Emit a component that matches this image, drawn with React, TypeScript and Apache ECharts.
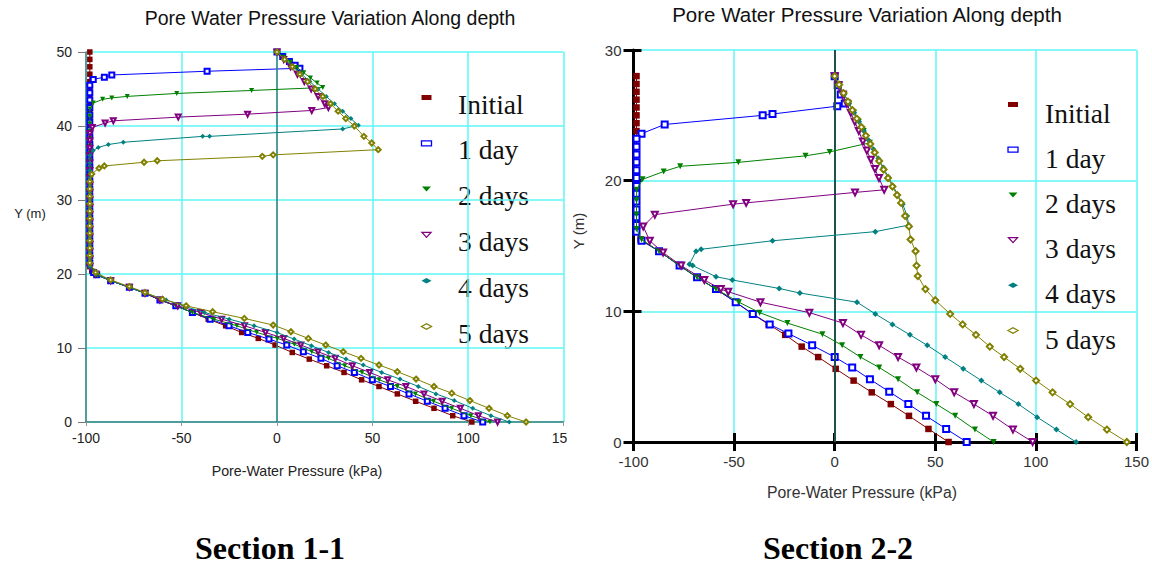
import React, { useEffect, useRef } from "react";
import * as echarts from "echarts";

// ---------- shared ----------
const SERIES_NAMES = ["Initial", "1 day", "2 days", "3 days", "4 days", "5 days"];
const CHART_TITLE = "Pore Water Pressure Variation Along depth";
const X_NAME = "Pore-Water Pressure (kPa)";
const Y_NAME = "Y (m)";
const SECTION_LABELS = ["Section 1-1", "Section 2-2"];
const X_MIN = -100;
const X_MAX = 150;
const X_STEP = 50;
const Y_STEP = 10;
const LEFT_Y_MAX = 50;
const RIGHT_Y_MAX = 30;

// ---------- Section 1-1 (left) : [pressure kPa, Y m] ----------
const L_INITIAL = [[-98,50],[-98,49],[-98,48],[-98,47],[-98,46],[-98,45],[-98,44],[-98,43],[-98,42],[-98,41],[-98,40],[-98,39],[-98,38],[-98,37],[-98,36],[-98,35],[-98,34],[-98,33],[-98,32],[-98,31],[-98,30],[-98,29],[-98,28],[-98,27],[-98,26],[-98,25],[-98,24],[-98,23],[-98,22],[-98,21],[-97,20.4],[-94.4,19.9],[-87.1,19.1],[-77.3,18.2],[-69.1,17.4],[-61.3,16.5],[-53,15.7],[-44.3,14.8],[-36,13.9],[-26.9,13],[-18.5,12.1],[-9.8,11.3],[-1,10.4],[8,9.4],[16.9,8.5],[26,7.6],[35.1,6.7],[44.3,5.7],[53.4,4.8],[63,3.8],[72.6,2.8],[82.2,1.85],[92,0.85],[102,0]];
const L_DAY1 = [[0,50],[3,49.4],[6.5,48.7],[9.5,48.2],[12,47.8],[-36.6,47.4],[-86.5,46.9],[-90.4,46.6],[-96.2,46.3],[-98,45.5],[-98,44.5],[-98,43.5],[-98,42.5],[-98,41.5],[-98,40.5],[-98,39.5],[-98,38.5],[-98,37.5],[-98,36.5],[-98,35.5],[-98,34.5],[-98,33.5],[-98,32.5],[-98,31.5],[-98,30.5],[-98,29.5],[-98,28.5],[-98,27.5],[-98,26.5],[-98,25.5],[-98,24.5],[-98,23.5],[-98,22.5],[-98,21.5],[-96,20.2],[-94.4,19.9],[-87.1,19.1],[-77.3,18.2],[-69.1,17.4],[-61.3,16.5],[-53,15.7],[-44.3,14.8],[-35,13.9],[-25.1,13],[-15.3,12.1],[-4.2,11.2],[5.1,10.4],[13.8,9.5],[23,8.6],[31.5,7.6],[40.5,6.7],[49.9,5.7],[59.4,4.8],[69.1,3.8],[78.7,2.8],[88,1.85],[97.9,0.85],[107.7,0]];
const L_DAY2 = [[0,50],[3.5,49.3],[7,48.6],[10.5,47.9],[14,47.2],[17.5,46.5],[21,45.8],[24,45.2],[-13.3,44.8],[-52.5,44.4],[-78.4,44],[-86.5,43.8],[-91.3,43.6],[-96.2,43.1],[-98,42.3],[-98,41.3],[-98,40.3],[-98,39.3],[-98,38.3],[-98,37.3],[-98,36.3],[-98,35.3],[-98,34.3],[-98,33.3],[-98,32.3],[-98,31.3],[-98,30.3],[-98,29.3],[-98,28.3],[-98,27.3],[-98,26.3],[-98,25.3],[-98,24.3],[-98,23.3],[-98,22.3],[-98,21.3],[-94,19.8],[-87.1,19.1],[-77.3,18.2],[-69.1,17.4],[-61.3,16.5],[-53,15.7],[-44.3,14.8],[-33,13.9],[-21,13],[-10.6,12.1],[0.2,11.3],[9.1,10.5],[18.2,9.5],[27,8.6],[35.5,7.6],[44.5,6.7],[53.5,5.7],[63,4.8],[72.5,3.8],[82,2.8],[91.5,1.85],[101.5,0.85],[111.5,0]];
const L_DAY3 = [[0,50],[3.5,49],[7.1,48],[10.7,47],[14.3,46],[17.9,45],[21.5,44],[25,43],[26.9,42.5],[18.2,42.1],[-15.4,41.6],[-51.7,41.2],[-85.7,40.7],[-90,40.4],[-96.7,39.8],[-98,39],[-98,38],[-98,37],[-98,36],[-98,35],[-98,34],[-98,33],[-98,32],[-98,31],[-98,30],[-98,29],[-98,28],[-98,27],[-98,26],[-98,25],[-98,24],[-98,23],[-98,22],[-98,21],[-95,20],[-87.1,19.1],[-77.3,18.2],[-69.1,17.4],[-61.3,16.5],[-52,15.7],[-40,14.8],[-29,13.9],[-17,13],[-6,12.1],[3.5,11.3],[12.5,10.4],[21.5,9.5],[30.5,8.6],[39.5,7.6],[48.5,6.7],[58,5.7],[67.5,4.8],[77,3.8],[86.5,2.8],[96,1.85],[105.5,0.85],[115.5,0]];
const L_DAY4 = [[0,50],[4.3,49],[8.6,48],[12.9,47],[17.2,46],[21.5,45],[25.8,44],[30.1,43],[34.4,42],[38.7,41],[42.6,40.1],[34.4,39.6],[-35.3,38.6],[-38.9,38.6],[-80.5,37.8],[-88.3,37.5],[-93.6,37.1],[-96.2,36.7],[-98,36],[-98,35],[-98,34],[-98,33],[-98,32],[-98,31],[-98,30],[-98,29],[-98,28],[-98,27],[-98,26],[-98,25],[-98,24],[-98,23],[-98,22],[-98,21],[-95,20],[-87.1,19.1],[-77.3,18.2],[-69.1,17.4],[-58,16.5],[-48,15.6],[-38,14.8],[-25,13.9],[-12,13],[0,12.1],[9,11.2],[18,10.3],[27,9.4],[36.1,8.5],[45.2,7.7],[54.8,6.7],[64.4,5.8],[74,4.8],[83.2,3.8],[92.8,2.9],[102.5,1.85],[112,0.85],[121.6,0]];
const L_DAY5 = [[0,50],[4,49],[8,48],[12,47],[16,46],[20,45],[24,44],[28,43],[32,42],[36,41],[40.5,40],[45.5,38.6],[49.6,37.7],[53,36.8],[-2,36.1],[-7.7,35.9],[-62.7,35.3],[-69.6,35.1],[-90.4,34.6],[-93.2,34.3],[-97,33.5],[-98,32.5],[-98,31.5],[-98,30.5],[-98,29.5],[-98,28.5],[-98,27.5],[-98,26.5],[-98,25.5],[-98,24.5],[-98,23.5],[-98,22.5],[-98,21.5],[-95,20.2],[-87.1,19.2],[-77.3,18.3],[-69.1,17.5],[-60,16.6],[-47.6,15.7],[-33.7,14.9],[-17.1,14],[-2,13.1],[7.3,12.2],[16.4,11.3],[25.5,10.4],[34.7,9.5],[44,8.6],[53.4,7.7],[63,6.8],[72.8,5.8],[82.2,4.8],[91.5,3.9],[101,2.9],[111,1.85],[120.6,0.85],[130.4,0]];

// ---------- Section 2-2 (right) ----------
const R_INITIAL = [[-98.5,28],[-98.5,27.4],[-98.5,26.8],[-98.5,26.2],[-98.5,25.6],[-98.5,25],[-98.5,24.4],[-98.5,23.8],[-98.5,23.2],[-98.5,22.6],[-98.5,22],[-98.5,21.4],[-98.5,20.8],[-98.5,20.2],[-98.5,19.6],[-98.5,19],[-98.5,18.4],[-98.5,17.8],[-98.5,17.2],[-98.5,16.6],[-98.5,16.1],[-96.5,15.5],[-87.3,14.6],[-77.1,13.5],[-68.4,12.6],[-59,11.7],[-49.2,10.7],[-41,9.8],[-32.8,9],[-24.6,8.2],[-16.4,7.3],[-8.2,6.5],[0.5,5.6],[9.4,4.7],[18.4,3.8],[27.9,2.9],[36.9,2],[46.6,1],[56.6,0]];
const R_DAY1 = [[0,28],[1.5,27.3],[3,26.6],[5,25.9],[1.3,25.7],[-30.9,25.1],[-35.8,25],[-84.5,24.3],[-96,23.6],[-98.5,23.2],[-98.5,22.6],[-98.5,22],[-98.5,21.4],[-98.5,20.8],[-98.5,20.2],[-98.5,19.6],[-98.5,19],[-98.5,18.4],[-98.5,17.8],[-98.5,17.2],[-98.5,16.6],[-98.5,16.1],[-96,15.4],[-87.3,14.6],[-77.1,13.5],[-68.4,12.6],[-59,11.7],[-49.2,10.7],[-40.7,9.8],[-32.3,9],[-23,8.3],[-11.2,7.4],[0,6.5],[8.7,5.7],[17.5,4.8],[27.1,3.85],[36.6,2.9],[45.4,2],[55.4,1],[65.6,0]];
const R_DAY2 = [[0,28],[2.4,27.3],[4.8,26.6],[7.2,25.9],[9.6,25.2],[12,24.5],[14.4,23.8],[17.5,22.9],[-2.5,22.2],[-14.5,21.9],[-47.9,21.4],[-76.8,21.1],[-85,20.7],[-95.5,20.1],[-98.4,19.3],[-98.5,18.5],[-98.5,17.4],[-98.5,16.3],[-96,15.5],[-87.3,14.6],[-77.1,13.5],[-68.4,12.6],[-59,11.7],[-47.6,10.7],[-37.3,9.9],[-23.5,9.1],[-6.1,8.25],[3.7,7.4],[12.8,6.5],[22.1,5.7],[31.5,4.8],[41,3.8],[50.5,2.9],[59.9,2],[69.7,0.95],[79,0]];
const R_DAY3 = [[0,28],[2,27.3],[4,26.6],[6,25.9],[8,25.2],[10,24.5],[12,23.8],[14,23],[16,22.3],[18,21.6],[20,20.9],[22,20.2],[24.6,19.3],[10.1,19.1],[-44,18.3],[-50.5,18.2],[-89.4,17.4],[-95.2,16.5],[-91.9,15.4],[-85.3,14.5],[-76.3,13.5],[-64.8,12.4],[-56.6,11.7],[-52.9,11.5],[-36.9,10.7],[-12.6,9.9],[4.1,9.1],[13.1,8.2],[22.1,7.4],[31.5,6.5],[40.6,5.7],[50,4.8],[59.4,3.8],[69.2,2.9],[78.7,2],[88.6,0.95],[98.4,0]];
const R_DAY4 = [[0,28],[2.4,27.3],[4.8,26.6],[7.2,25.9],[9.7,25.2],[12.1,24.5],[14.5,23.8],[16.9,23.1],[19.3,22.4],[21.7,21.7],[24.2,21],[26.6,20.3],[29,19.6],[31.4,18.9],[33.8,18.2],[36,17.3],[36.8,16.6],[20.2,16.1],[-30.9,15.4],[-66.4,14.75],[-68.9,14.6],[-72.2,13.6],[-70.6,13.5],[-59,12.65],[-50.9,12.4],[-27.6,11.75],[-17.3,11.4],[11.1,10.7],[20.2,9.8],[28.7,9],[37.4,8.2],[46,7.4],[54.9,6.5],[63.9,5.6],[72.9,4.7],[82,3.8],[91.3,2.9],[100.6,1.9],[110.2,0.95],[120,0]];
const R_DAY5 = [[0,28],[2.2,27.35],[4.4,26.7],[6.6,26.05],[8.8,25.4],[11,24.75],[13.3,24.1],[15.5,23.45],[17.7,22.8],[19.9,22.15],[22.1,21.5],[24.3,20.85],[26.5,20.2],[28.7,19.55],[31,18.9],[33,18.3],[35,17.3],[36.9,16.5],[37.7,15.5],[40.2,14.6],[40.7,13.5],[41.3,12.7],[45.1,11.7],[50,10.85],[57.4,9.8],[63.6,9],[70.2,8.2],[77.1,7.3],[84.2,6.5],[92.2,5.6],[100.1,4.7],[108.3,3.8],[117,2.9],[126,1.9],[135.3,0.95],[145.2,0]];

const LEFT_DATA = [L_INITIAL, L_DAY1, L_DAY2, L_DAY3, L_DAY4, L_DAY5];
const RIGHT_DATA = [R_INITIAL, R_DAY1, R_DAY2, R_DAY3, R_DAY4, R_DAY5];

const STYLES = [
  { color: "#800000", symbol: "rect", rotate: 0 },
  { color: "#0000ff", symbol: "emptyRect", rotate: 0 },
  { color: "#008000", symbol: "triangle", rotate: 180 },
  { color: "#800080", symbol: "emptyTriangle", rotate: 180 },
  { color: "#008080", symbol: "diamond", rotate: 0 },
  { color: "#808000", symbol: "emptyDiamond", rotate: 0 },
];

const SANS = "Liberation Sans";
const SERIF = "Liberation Serif";
const CYAN = "#5ef6f6";

function legendGraphics(mx: number, tx: number, y0: number, dy: number, markOff: number) {
  const out: any[] = [];
  SERIES_NAMES.forEach((name, i) => {
    const ty = y0 + i * dy;
    const my = ty + markOff;
    const c = STYLES[i].color;
    const filled = { fill: c };
    const open = { fill: "#fff", stroke: c, lineWidth: 1.3 };
    let mk: any;
    if (i === 0 || i === 1) {
      mk = { type: "rect", shape: { x: mx - 5, y: my - 2.5, width: 10, height: 5 }, style: i === 0 ? filled : open };
    } else if (i === 2 || i === 3) {
      mk = { type: "polygon", shape: { points: [[mx - 4.5, my - 2.5], [mx + 4.5, my - 2.5], [mx, my + 2.5]] }, style: i === 2 ? filled : open };
    } else {
      mk = { type: "polygon", shape: { points: [[mx - 5, my], [mx, my - 2.7], [mx + 5, my], [mx, my + 2.7]] }, style: i === 4 ? filled : open };
    }
    out.push(mk);
    out.push({
      type: "text",
      x: tx,
      y: ty,
      style: { text: name, fontFamily: SERIF, fontSize: 27.5, fill: "#111", verticalAlign: "middle", align: "left" },
    });
  });
  return out;
}

export default function App() {
  const ref = useRef<HTMLDivElement>(null);
  useEffect(() => {
    if (!ref.current) return;
    const chart = echarts.init(ref.current, undefined, { renderer: "svg" });

    const mkSeries = (data: number[][][], axisIdx: number, size: number, zeroColor: string, zeroWidth: number) =>
      data.map((d, i) => ({
        name: SERIES_NAMES[i],
        type: "line",
        xAxisIndex: axisIdx,
        yAxisIndex: axisIdx,
        data: d,
        symbol: STYLES[i].symbol,
        symbolRotate: STYLES[i].rotate,
        symbolSize: i === 0 ? size + 0.5 : size,
        showAllSymbol: true,
        lineStyle: { color: STYLES[i].color, width: 1 },
        itemStyle: { color: STYLES[i].color, borderWidth: 1 },
        emphasis: { disabled: true },
        z: 3 + i,
        ...(i === 0
          ? {
              markLine: {
                silent: true,
                symbol: "none",
                label: { show: false },
                lineStyle: { color: zeroColor, width: zeroWidth, type: "solid" },
                data: [{ xAxis: 0 }],
              },
            }
          : {}),
      }));

    const option: any = {
      animation: false,
      backgroundColor: "#fff",
      grid: [
        { left: 86, top: 52, width: 477.5, height: 370 },
        { left: 633.5, top: 50, width: 508, height: 392 },
      ],
      xAxis: [
        {
          gridIndex: 0, type: "value", min: X_MIN, max: X_MAX, interval: X_STEP,
          axisLine: { show: true, onZero: false, lineStyle: { color: "#3d7f7f", width: 1.5 } },
          axisTick: { show: true, length: 4, lineStyle: { color: "#999" } },
          axisLabel: { color: "#222", fontSize: 14, fontFamily: SANS, margin: 9 },
          splitLine: { show: true, lineStyle: { color: CYAN, width: 1.5 } },
        },
        {
          gridIndex: 1, type: "value", min: X_MIN, max: X_MAX, interval: X_STEP,
          axisLine: { show: true, onZero: false, lineStyle: { color: "#000", width: 3 } },
          axisTick: { show: true, length: 9, lineStyle: { color: "#000", width: 3 } },
          axisLabel: { color: "#333", fontSize: 15, fontFamily: SANS, margin: 12 },
          splitLine: { show: true, lineStyle: { color: CYAN, width: 1.5 } },
        },
        {
          gridIndex: 1, type: "value", min: X_MIN, max: X_MAX, interval: X_STEP, position: "bottom",
          axisLine: { show: false, onZero: false },
          axisTick: { show: true, inside: true, length: 9, lineStyle: { color: "#000", width: 3 } },
          axisLabel: { show: false },
          splitLine: { show: false },
        },
      ],
      yAxis: [
        {
          gridIndex: 0, type: "value", min: 0, max: LEFT_Y_MAX, interval: Y_STEP,
          axisLine: { show: true, onZero: false, lineStyle: { color: "#3d7f7f", width: 1.5 } },
          axisTick: { show: true, length: 8, lineStyle: { color: "#777" } },
          axisLabel: { color: "#222", fontSize: 14, fontFamily: SANS, margin: 14 },
          splitLine: { show: true, lineStyle: { color: CYAN, width: 1.5 } },
        },
        {
          gridIndex: 1, type: "value", min: 0, max: RIGHT_Y_MAX, interval: Y_STEP,
          axisLine: { show: true, onZero: false, lineStyle: { color: "#000", width: 3 } },
          axisTick: { show: true, length: 10, lineStyle: { color: "#000", width: 3 } },
          axisLabel: { color: "#333", fontSize: 15, fontFamily: SANS, margin: 12 },
          splitLine: { show: true, lineStyle: { color: CYAN, width: 1.5 } },
        },
        {
          gridIndex: 1, type: "value", min: 0, max: RIGHT_Y_MAX, interval: Y_STEP, position: "left",
          axisLine: { show: false, onZero: false },
          axisTick: { show: true, inside: true, length: 8, lineStyle: { color: "#000", width: 3 } },
          axisLabel: { show: false },
          splitLine: { show: false },
        },
      ],
      series: [
        ...mkSeries(LEFT_DATA, 0, 5, "#3d7f7f", 1.5),
        ...mkSeries(RIGHT_DATA, 1, 6, "#1f4f4f", 2),
      ],
      graphic: [
        { type: "rect", z: 100, shape: { x: 567, y: 428, width: 30, height: 22 }, style: { fill: "#fff" } },
        { type: "text", x: 330, y: 18, style: { text: CHART_TITLE, fontFamily: SANS, fontSize: 19.5, fill: "#111", align: "center", verticalAlign: "middle" } },
        { type: "text", x: 867, y: 14, style: { text: CHART_TITLE, fontFamily: SANS, fontSize: 20.5, fill: "#111", align: "center", verticalAlign: "middle" } },
        { type: "text", x: 297, y: 471, style: { text: X_NAME, fontFamily: SANS, fontSize: 14.2, fill: "#222", align: "center", verticalAlign: "middle" } },
        { type: "text", x: 862, y: 492, style: { text: X_NAME, fontFamily: SANS, fontSize: 15.8, fill: "#333", align: "center", verticalAlign: "middle" } },
        { type: "text", x: 30, y: 213, style: { text: Y_NAME, fontFamily: SANS, fontSize: 13, fill: "#222", align: "center", verticalAlign: "middle" } },
        { type: "text", x: 578, y: 231, rotation: Math.PI / 2, style: { text: Y_NAME, fontFamily: SANS, fontSize: 15, fill: "#333", align: "center", verticalAlign: "middle" } },
        { type: "text", x: 270, y: 548, style: { text: SECTION_LABELS[0], fontFamily: SERIF, fontSize: 32, fontWeight: "bold", fill: "#000", align: "center", verticalAlign: "middle" } },
        { type: "text", x: 838, y: 548, style: { text: SECTION_LABELS[1], fontFamily: SERIF, fontSize: 32, fontWeight: "bold", fill: "#000", align: "center", verticalAlign: "middle" } },
        ...legendGraphics(426.5, 458, 104, 45.8, -6.5),
        ...legendGraphics(1013, 1045, 113, 45.2, -8.5),
      ],
    };
    chart.setOption(option);
    return () => chart.dispose();
  }, []);
  return <div ref={ref} style={{ position: "fixed", left: 0, top: 0, width: 1152, height: 565, background: "#fff" }} />;
}
